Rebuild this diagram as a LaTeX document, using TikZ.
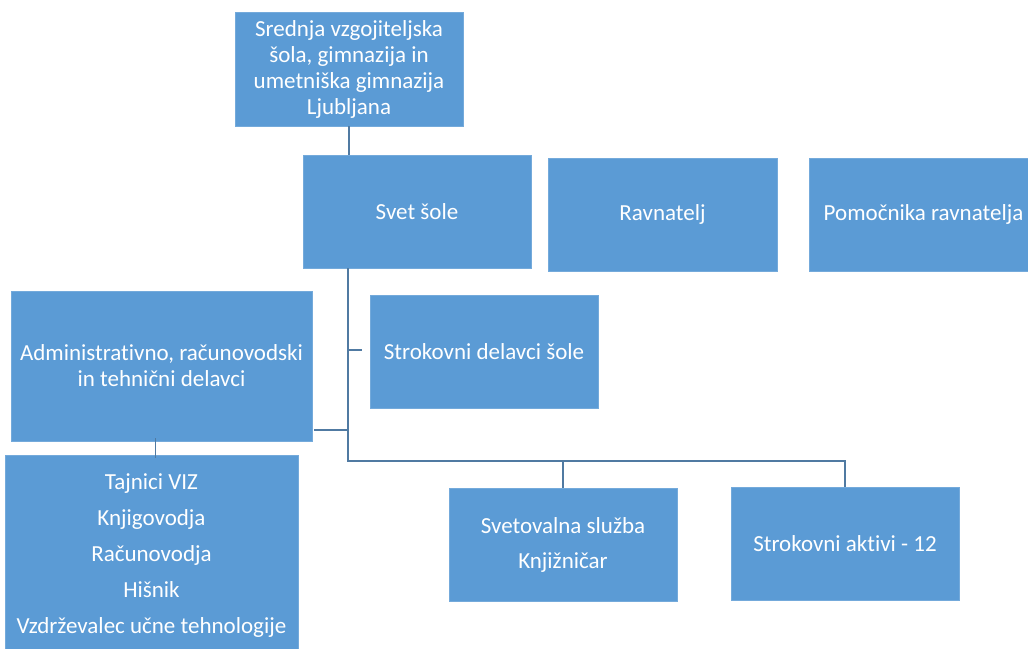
\documentclass[tikz,border=0pt]{standalone}
\usepackage{fontspec}
\setmainfont[Ligatures=NoCommon]{Carlito}
\definecolor{boxblue}{RGB}{91,155,213}
\definecolor{linecol}{RGB}{80,122,162}
\begin{document}
\begin{tikzpicture}[x=1pt,y=-1pt,
  box/.style={rectangle, fill=boxblue, draw=boxblue!85!white, line width=0.6pt, text=white, align=center, font=\fontsize{23}{26}\selectfont, inner sep=0pt},
  conn/.style={draw=linecol, line width=2.6pt}]
\useasboundingbox (0,0) rectangle (1028,648);
\node[box, minimum width=228, minimum height=114] (top) at (349,69) {Srednja vzgojiteljska\\šola, gimnazija in\\umetniška gimnazija\\Ljubljana};
\node[box, minimum width=228, minimum height=113] (svet) at (417,211.5) {Svet šole};
\node[box, minimum width=229, minimum height=113] (rav) at (662.5,214.5) {Ravnatelj};
\node[box, minimum width=229, minimum height=113] (pom) at (923.5,214.5) {Pomočnika ravnatelja};
\node[box, minimum width=301, minimum height=150] (adm) at (161.5,366) {Administrativno, računovodski\\in tehnični delavci};
\node[box, minimum width=228, minimum height=113] (sdel) at (484,351.5) {Strokovni delavci šole};
\node[box, minimum width=293, minimum height=202, font=\fontsize{23}{36}\selectfont] (taj) at (151.5,556) {Tajnici VIZ\\Knjigovodja\\Računovodja\\Hišnik\\Vzdrževalec učne tehnologije};
\node[box, minimum width=228, minimum height=113, font=\fontsize{23}{35}\selectfont] (svs) at (563,544.5) {Svetovalna služba\\Knjižničar};
\node[box, minimum width=228, minimum height=113] (akt) at (845,543.5) {Strokovni aktivi - 12};
\coordinate (bus) at (348,461);
\coordinate (admj) at (348,430);
\coordinate (sdelj) at (348,350);
\draw[conn] (top.south) -- (top.south |- svet.north);
\draw[conn] (svet.south -| bus) -- (bus) -- (bus -| akt.north) -- (akt.north);
\draw[conn] (bus -| svs.north) -- (svs.north);
\draw[conn] (sdelj) -- ([xshift=-8pt]sdelj -| sdel.west);
\draw[conn] (admj) -- ([xshift=2pt]admj -| adm.east);
\draw[linecol, line width=1.6pt] ([xshift=-6pt,yshift=3pt]adm.south) -- ([xshift=-6pt,yshift=-3pt]adm.south |- taj.north);
\end{tikzpicture}
\end{document}
